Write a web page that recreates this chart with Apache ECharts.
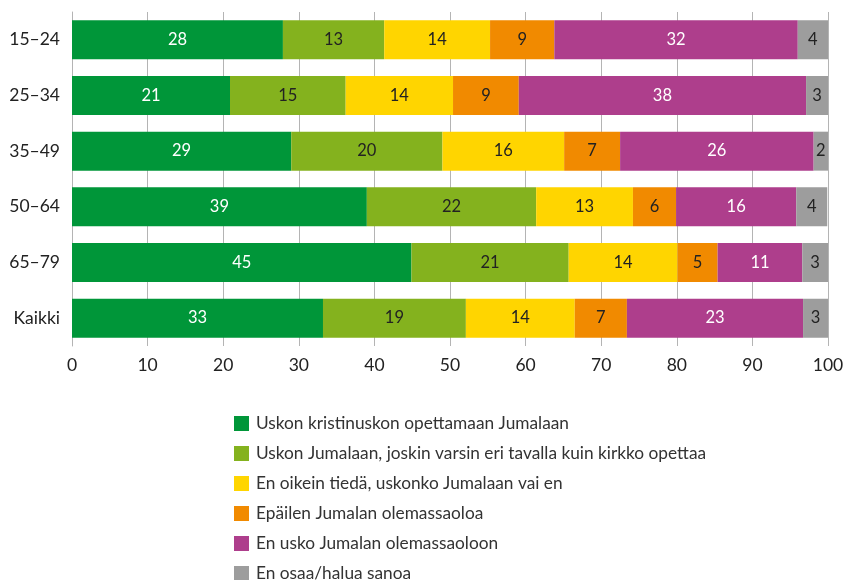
<!DOCTYPE html>
<html>
<head>
<meta charset="utf-8">
<script src="https://cdn.jsdelivr.net/npm/echarts@6/dist/echarts.min.js"></script>
<style>
  html, body { margin: 0; padding: 0; background: #fff; }
  #chart { width: 848px; height: 580px; }
</style>
</head>
<body>
<div id="chart"></div>
<script>
// age groups, top to bottom
const categories = ['15–24', '25–34', '35–49', '50–64', '65–79', 'Kaikki']

// shares (%) per answer; labels show rounded values
const kristinusko = [27.9, 20.9, 29.0, 39.0, 44.9, 33.2]
const eriTavalla = [13.4, 15.3, 20.0, 22.4, 20.8, 18.9]
const enTieda = [14.0, 14.2, 16.1, 12.8, 14.4, 14.4]
const epailen = [8.5, 8.7, 7.4, 5.7, 5.3, 6.9]
const enUsko = [32.2, 38.0, 25.6, 15.9, 11.2, 23.3]
const enOsaa = [4.0, 2.9, 1.9, 4.1, 3.4, 3.3]

const seriesNames = [
  'Uskon kristinuskon opettamaan Jumalaan',
  'Uskon Jumalaan, joskin varsin eri tavalla kuin kirkko opettaa',
  'En oikein tiedä, uskonko Jumalaan vai en',
  'Epäilen Jumalan olemassaoloa',
  'En usko Jumalan olemassaoloon',
  'En osaa/halua sanoa'
]
const seriesData = [kristinusko, eriTavalla, enTieda, epailen, enUsko, enOsaa]
const colors = ['#009639', '#84b21e', '#ffd500', '#f18a00', '#ae3e8c', '#9d9d9d']
const labelColors = ['#fff', '#222', '#222', '#222', '#fff', '#222']

const font = 'Lato, "Noto Sans", sans-serif'

const chart = echarts.init(document.getElementById('chart'))

const series = seriesData.map((data, i) => ({
  name: seriesNames[i],
  type: 'bar',
  stack: 'total',
  data,
  barCategoryGap: '30%',
  itemStyle: { color: colors[i] },
  emphasis: { disabled: true },
  label: {
    show: true,
    position: 'inside',
    color: labelColors[i],
    fontFamily: font,
    fontSize: 16.5,
    formatter: p => Math.round(p.value)
  }
}))

chart.setOption({
  animation: false,
  color: colors,
  grid: { left: 72, right: 20, top: 12, height: 334, containLabel: false },
  xAxis: {
    type: 'value',
    min: 0,
    max: 100,
    interval: 10,
    axisLine: { show: false },
    axisTick: { show: false },
    axisLabel: { color: '#222', fontFamily: font, fontSize: 17.5, margin: 10 },
    splitLine: { show: true, lineStyle: { color: '#b4b4b4', width: 1 } }
  },
  yAxis: {
    type: 'category',
    data: categories,
    inverse: true,
    axisLine: { show: true, lineStyle: { color: '#b4b4b4' } },
    axisTick: { show: false },
    axisLabel: { color: '#222', fontFamily: font, fontSize: 17.5, margin: 12 }
  },
  legend: {
    orient: 'vertical',
    left: 229,
    top: 410,
    height: 200,
    itemWidth: 15,
    itemHeight: 15,
    itemGap: 13,
    icon: 'rect',
    selectedMode: false,
    textStyle: { color: '#333', fontFamily: font, fontSize: 17.3, lineHeight: 17, padding: [0, 0, 0, 2] },
    data: seriesNames
  },
  series
})
</script>
</body>
</html>
